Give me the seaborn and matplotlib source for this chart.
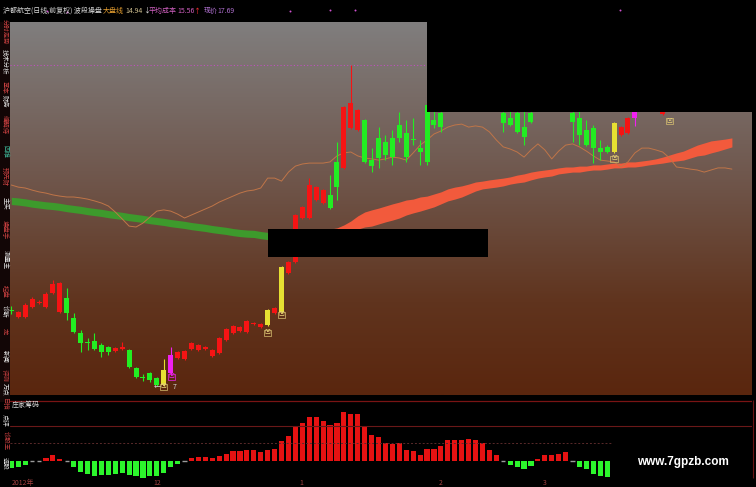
import numpy as np
import pandas as pd
import seaborn as sns
import matplotlib.pyplot as plt
from matplotlib.patches import Rectangle

sns.set_theme(style="dark")
plt.rcParams['font.family'] = ['Noto Sans CJK SC', 'DejaVu Sans']
plt.rcParams['axes.unicode_minus'] = False

nan = np.nan

# daily candles, nan where the bar sits behind the black boxes
opens = [12.83, 12.60, 12.60, 12.93, 13.07, 12.93, 13.40, 12.77, 13.23, 12.57,
         12.07, 11.77, 11.80, 11.67, 11.60, 11.47, 11.53, 11.50, 10.90, 10.60,
         10.73, 10.57, 10.33, 10.73, 11.23, 11.20, 11.53, 11.50, 11.53, 11.30,
         11.40, 11.83, 12.07, 12.13, 12.10, 12.37, 12.27, 12.33, 12.73, 12.77,
         14.07, 14.43, 15.90, 15.90, 16.50, 16.40, 16.67, 17.77, 17.57, 18.90,
         18.83, 19.17, 17.83, 18.57, 18.43, 18.57, 19.00, 18.73, 18.53, 18.23,
         19.67, 19.17, 19.40, nan, nan, nan, nan, nan, nan, nan,
         nan, 19.40, 19.23, 19.40, 18.93, 19.40, nan, nan, nan, nan,
         nan, 19.40, 19.23, 18.83, 18.90, 18.23, 18.27, 18.10, 18.67, 18.73,
         19.23, nan, nan, nan, 19.37, nan, nan, nan, nan, nan,
         nan, nan, nan, nan, nan]
highs = [12.97, 12.80, 13.07, 13.27, 13.17, 13.43, 13.83, 13.77, 13.57, 12.73,
         12.17, 11.90, 12.07, 11.73, 11.63, 11.60, 11.77, 11.53, 10.93, 10.70,
         10.77, 10.60, 11.20, 11.60, 11.47, 11.50, 11.77, 11.70, 11.63, 11.53,
         11.93, 12.23, 12.33, 12.30, 12.50, 12.43, 12.40, 12.87, 12.93, 14.30,
         14.47, 16.03, 16.30, 17.23, 16.97, 16.87, 17.33, 18.43, 19.63, 21.00,
         19.53, 19.20, 18.23, 18.93, 18.67, 18.83, 19.43, 19.17, 19.23, 18.50,
         19.83, 19.50, 19.67, nan, nan, nan, nan, nan, nan, nan,
         nan, 19.83, 19.67, 19.83, 19.50, 19.83, nan, nan, nan, nan,
         nan, 19.83, 19.67, 19.17, 19.00, 18.50, 18.33, 19.10, 18.97, 19.27,
         20.00, nan, nan, nan, 20.00, nan, nan, nan, nan, nan,
         nan, nan, nan, nan, nan]
lows = [12.70, 12.57, 12.57, 12.90, 13.03, 12.90, 13.37, 12.73, 12.50, 12.07,
        11.43, 11.50, 11.50, 11.27, 11.33, 11.43, 11.50, 10.90, 10.57, 10.47,
        10.43, 10.30, 10.30, 10.70, 11.20, 11.17, 11.50, 11.47, 11.50, 11.27,
        11.37, 11.80, 12.03, 12.10, 12.07, 12.33, 12.23, 12.30, 12.70, 12.73,
        14.03, 14.40, 15.87, 15.87, 16.47, 16.37, 16.20, 16.50, 17.53, 18.87,
        18.80, 17.73, 17.43, 17.57, 17.83, 17.67, 18.43, 17.77, 18.33, 17.67,
        17.67, 18.90, 18.77, nan, nan, nan, nan, nan, nan, nan,
        nan, 18.77, 18.97, 18.73, 18.33, 19.07, nan, nan, nan, nan,
        nan, 18.43, 18.33, 18.30, 17.73, 17.83, 18.07, 18.07, 18.63, 18.70,
        18.97, nan, nan, nan, 19.33, nan, nan, nan, nan, nan,
        nan, nan, nan, nan, nan]
closes = [12.80, 12.77, 13.00, 13.20, 13.10, 13.37, 13.70, 13.73, 12.73, 12.10,
          11.73, 11.75, 11.53, 11.43, 11.43, 11.57, 11.60, 10.93, 10.60, 10.57,
          10.50, 10.33, 10.83, 11.33, 11.43, 11.47, 11.73, 11.67, 11.60, 11.50,
          11.90, 12.20, 12.30, 12.27, 12.47, 12.40, 12.37, 12.83, 12.90, 14.27,
          14.43, 16.00, 16.27, 17.00, 16.93, 16.83, 16.23, 16.93, 19.60, 19.73,
          19.50, 17.77, 17.63, 17.90, 18.00, 17.93, 18.57, 17.93, 18.50, 18.10,
          17.77, 19.00, 18.93, nan, nan, nan, nan, nan, nan, nan,
          nan, 19.07, 19.00, 18.77, 18.60, 19.10, nan, nan, nan, nan,
          nan, 19.10, 18.67, 18.33, 18.23, 18.10, 18.10, 19.07, 18.93, 19.23,
          19.83, nan, nan, nan, 19.83, nan, nan, nan, nan, nan,
          nan, nan, nan, nan, nan]

yellow_days = [22, 37, 39, 87]
magenta_days = [23, 90]

# "凹" signal boxes under candles
sig_days = [22, 37, 39, 87, 95]
sig_price = [10.27, 12.07, 12.67, 17.87, 19.13]

# thin cost line
cost_line = [17.00, 16.93, 16.90, 16.83, 16.77, 16.73, 16.67, 16.63, 16.60, 16.60,
             16.57, 16.53, 16.47, 16.40, 16.30, 16.10, 15.87, 15.63, 15.60, 15.73,
             15.93, 16.13, 16.17, 16.13, 16.03, 15.90, 16.00, 16.10, 16.20, 16.30,
             16.43, 16.53, 16.63, 16.73, 16.80, 16.83, 16.90, 17.23, 17.23, 17.13,
             17.43, 17.63, 17.70, 17.73, 17.73, 17.73, 17.77, 17.97, 18.07, 18.10,
             17.97, 17.90, 17.87, 17.83, 17.87, 17.93, 17.90, 17.83, 18.07, 18.33,
             18.50, 18.70, 18.80, 18.93, 19.00, 19.03, 18.93, 18.97, 18.93, 18.77,
             18.50, 18.27, 18.20, 18.10, 17.93, 18.17, 18.37, 18.17, 17.87, 18.13,
             18.33, 18.37, 18.27, 18.13, 17.97, 17.83, 17.80, 17.77, 17.60, 17.77,
             18.07, 18.23, 18.23, 18.17, 18.10, 17.90, 17.60, 17.57, 17.53, 17.50,
             17.43, 17.50, 17.57, 17.57, 17.53]

# green market band (days 0-41)
market_band = [16.47, 16.45, 16.42, 16.38, 16.35, 16.32, 16.30, 16.27, 16.23, 16.20,
               16.17, 16.13, 16.10, 16.07, 16.03, 16.00, 15.97, 15.93, 15.90, 15.87,
               15.83, 15.80, 15.77, 15.73, 15.70, 15.67, 15.63, 15.60, 15.57, 15.53,
               15.50, 15.47, 15.43, 15.40, 15.38, 15.37, 15.33, 15.30, 15.27, 15.23,
               15.20, 15.17]

# red average-cost band (days 40-104)
avg_upper = [15.23, 15.30, 15.33, 15.40, 15.47, 15.53, 15.53, 15.57, 15.67, 15.80,
             15.97, 16.10, 16.17, 16.23, 16.30, 16.37, 16.43, 16.50, 16.53, 16.60,
             16.63, 16.70, 16.77, 16.87, 16.93, 16.97, 17.03, 17.10, 17.13, 17.17,
             17.20, 17.23, 17.27, 17.33, 17.37, 17.43, 17.47, 17.50, 17.53, 17.57,
             17.60, 17.60, 17.63, 17.63, 17.67, 17.67, 17.70, 17.73, 17.73, 17.77,
             17.77, 17.80, 17.83, 17.87, 17.93, 18.00, 18.07, 18.13, 18.23, 18.33,
             18.40, 18.47, 18.50, 18.53, 18.57]
avg_lower = [15.00, 15.07, 15.10, 15.17, 15.23, 15.30, 15.30, 15.33, 15.40, 15.47,
             15.53, 15.60, 15.63, 15.70, 15.77, 15.83, 15.90, 16.00, 16.07, 16.13,
             16.20, 16.27, 16.37, 16.47, 16.53, 16.60, 16.70, 16.80, 16.87, 16.90,
             16.93, 16.97, 17.03, 17.07, 17.10, 17.17, 17.23, 17.27, 17.30, 17.37,
             17.40, 17.43, 17.43, 17.47, 17.50, 17.50, 17.53, 17.57, 17.57, 17.60,
             17.60, 17.63, 17.67, 17.70, 17.73, 17.77, 17.80, 17.83, 17.90, 17.97,
             18.00, 18.07, 18.13, 18.20, 18.27]

# 庄家筹码 histogram (days 0-86)
chips = [-7, -6, -4.3, 0, 0, 3, 5.7, 1.7, 0, -6,
         -11, -13, -15, -14.3, -14.3, -13, -11.7, -13.7, -15.3, -16.7,
         -15, -15.3, -11.7, -6, -2.7, 0, 3, 4.3, 4.3, 3,
         5.3, 7.3, 9.7, 9.7, 11.3, 10.7, 9, 11.3, 11.7, 19.7,
         24.7, 35, 38.3, 44.3, 44.3, 39.7, 36.3, 38.3, 49, 47.3,
         47.3, 35, 25.7, 24.3, 18.3, 16.7, 18, 10.7, 10, 6.3,
         12.3, 12.3, 14.7, 20.7, 20.7, 20.7, 21.7, 20.7, 18, 10.7,
         6.3, 0, -3.7, -6, -8.3, -5.3, 2.3, 6.3, 6.3, 7.3,
         9, 0, -6, -7.7, -13.3, -15.3, -16]

month_labels = ['2012年', '12', '1', '2', '3']
month_px = [12, 157, 301, 441, 545]

side_labels = ['分时走势', '技术分析', '基本', '财务', '缠解侍', '四维', '预先财', '主买',
               '操盘手', '测量主', '控盘', '诊断', '龙', '新闻', '评测', '万点']
side_y = [32, 62, 87, 101, 125, 151, 177, 203, 230, 260, 291, 311, 331, 356, 375, 389]

RED = '#f51414'
GREEN = '#22ee22'
YELLOW = '#e6e032'
MAGENTA = '#f020f0'

W, H = 756, 487
fig = plt.figure(figsize=(7.56, 4.87), dpi=100, facecolor='black')
x0, x1 = -0.19, 106.9
ax = fig.add_axes([10 / W, 1 - 395 / H, 742 / W, 373 / H])
axb = fig.add_axes([10 / W, 1 - 478 / H, 742 / W, 78 / H])
ylo, yhi = 10.0, 10.0 + 373 / 30

# gradient background
stops = np.array([[128, 126, 126], [112, 88, 78], [96, 52, 30], [90, 38, 14]]) / 255
pos = np.array([0.0, 0.4, 0.75, 1.0])
t = np.linspace(0, 1, 300)
grad = np.stack([np.interp(t, pos, stops[:, k]) for k in range(3)], axis=1)[:, None, :]
ax.imshow(grad, extent=(x0, x1, ylo, yhi), aspect='auto', origin='upper', zorder=0)

days = np.arange(len(opens))
o = np.array(opens); h = np.array(highs); l = np.array(lows); c = np.array(closes)

# bands and cost line
mdays = np.arange(len(market_band))
mb = np.array(market_band)
ax.fill_between(mdays, mb - 0.12, mb + 0.12, color='#3d9a2c', lw=0, zorder=2)
adays = np.arange(40, 40 + len(avg_upper))
ax.fill_between(adays, avg_lower, avg_upper, color='#f25a3c', lw=0, zorder=2)
sns.lineplot(x=days, y=cost_line, ax=ax, color='#c07548', lw=0.7, zorder=3)

# top dotted line at the high
ax.axhline(21.0, color='#c050c0', lw=0.8, ls=(0, (1, 2)), zorder=2)

for i in days:
    if np.isnan(o[i]):
        continue
    if i in yellow_days:
        col = YELLOW
    elif i in magenta_days:
        col = MAGENTA
    elif c[i] > o[i]:
        col = RED
    else:
        col = GREEN
    ax.vlines(i, l[i], h[i], color=col, lw=0.8, zorder=4)
    lo_b = min(o[i], c[i])
    ht = max(abs(c[i] - o[i]), 0.03)
    ax.bar(i, ht, bottom=lo_b, width=0.72, color=col, lw=0, zorder=5)

for d, p in zip(sig_days, sig_price):
    ax.text(d, p, '凹', color='#e8d27a', fontsize=4.2, ha='center', va='center', zorder=6,
            bbox=dict(boxstyle='square,pad=0.12', fc='none', ec='#d8c070', lw=0.5))
ax.text(23.1, 10.6, '凹', color=MAGENTA, fontsize=4.2, ha='center', va='center', zorder=6,
        bbox=dict(boxstyle='square,pad=0.12', fc='none', ec=MAGENTA, lw=0.5))
ax.text(21.0, 10.27, '←', color='#d8d8d8', fontsize=5, ha='center', va='center', zorder=6)
ax.text(23.6, 10.27, '7', color='#d8d8d8', fontsize=5, ha='center', va='center', zorder=6)

ax.set_xlim(x0, x1)
ax.set_ylim(ylo, yhi)

# bottom histogram
cdays = np.arange(len(chips))
df = pd.DataFrame({'day': cdays, 'chips': chips})
df['side'] = np.where(df['chips'] > 0, 'up', 'down')
nz = df[df['chips'] != 0]
sns.barplot(data=nz, x='day', y='chips', hue='side', palette={'up': '#e61212', 'down': '#2cf52c'},
            native_scale=True, dodge=False, width=0.74, errorbar=None, legend=False,
            saturation=1, linewidth=0, ax=axb)
flat = df[df['chips'] == 0]['day']
axb.hlines([0] * len(flat), flat - 0.3, flat + 0.3, color='#9a9a9a', lw=1.0)
axb.axhline(60.3, color='#7a1414', lw=0.9)
axb.axhline(35.3, color='#6a1818', lw=0.8)
axb.hlines(18.3, x0, 86.6, color='#5a2a2a', lw=0.7, ls=(0, (2, 2)))
axb.set_xlim(x0, x1)
axb.set_ylim(-17, 61)
axb.set_facecolor('black')

for a in (ax, axb):
    a.set_xticks([]); a.set_yticks([])
    a.set_xlabel(''); a.set_ylabel('')
    for s in a.spines.values():
        s.set_visible(False)

# overlay in pixel units
ov = fig.add_axes([0, 0, 1, 1], zorder=10)
ov.set_xlim(0, W); ov.set_ylim(H, 0)
ov.axis('off')
ov.add_patch(Rectangle((427, 22), 329, 90, color='black', lw=0))
ov.add_patch(Rectangle((268, 229), 220, 28, color='black', lw=0))
ov.add_patch(Rectangle((0, 22), 10, 380, color='#120606', lw=0))
ov.vlines(752.5, 400, 478, color='#6a1414', lw=0.8)

for k, (lab, yy) in enumerate(zip(side_labels, side_y)):
    col = '#c84040' if k % 2 == 0 else '#e0e0e0'
    if lab == '四维':
        col = '#40c0a0'
    ov.text(5, yy, lab, color=col, fontsize=4.6, rotation=-90, ha='center', va='center')
for lab, yy, col in zip(['日指', '点评', '诊股王', '选股'], [404, 420, 441, 463],
                        ['#c84040', '#e0e0e0', '#c84040', '#e0e0e0']):
    ov.text(5, yy, lab, color=col, fontsize=4.6, rotation=-90, ha='center', va='center')

ov.text(3, 11, '沪都航空(日线,前复权) 波段操盘', color='#d8d8d8', fontsize=5, ha='left', va='center')
ov.text(103, 11, '大盘线', color='#e8a030', fontsize=5, ha='left', va='center')
ov.text(125, 11, '14.94', color='#d0c090', fontsize=5, ha='left', va='center')
ov.text(143, 11, '↓', color='#e0e0e0', fontsize=5, ha='left', va='center')
ov.text(149, 11, '平均成本', color='#d060c0', fontsize=5, ha='left', va='center')
ov.text(177, 11, '15.56', color='#d060c0', fontsize=5, ha='left', va='center')
ov.text(193, 11, '↑', color='#ff3030', fontsize=5, ha='left', va='center')
ov.text(204, 11, '现价', color='#b070d0', fontsize=5, ha='left', va='center')
ov.text(217, 11, '17.69', color='#b070d0', fontsize=5, ha='left', va='center')
ov.scatter([47, 67, 290, 330, 355, 620], [11, 12, 11, 10, 10, 10], s=2, color='#d050d0', lw=0)

ov.text(12, 405, '庄家筹码', color='#d8d8d8', fontsize=5, ha='left', va='center')
for lab, xx in zip(month_labels, month_px):
    ov.text(xx, 483, lab, color='#a04040', fontsize=5, ha='left' if lab == '2012年' else 'center', va='center')
ov.text(683, 462, 'www.7gpzb.com', color='white', fontsize=8.5, fontweight='bold',
        family='Liberation Sans', ha='center', va='center')

fig.savefig('out.png', dpi=100, facecolor='black')
